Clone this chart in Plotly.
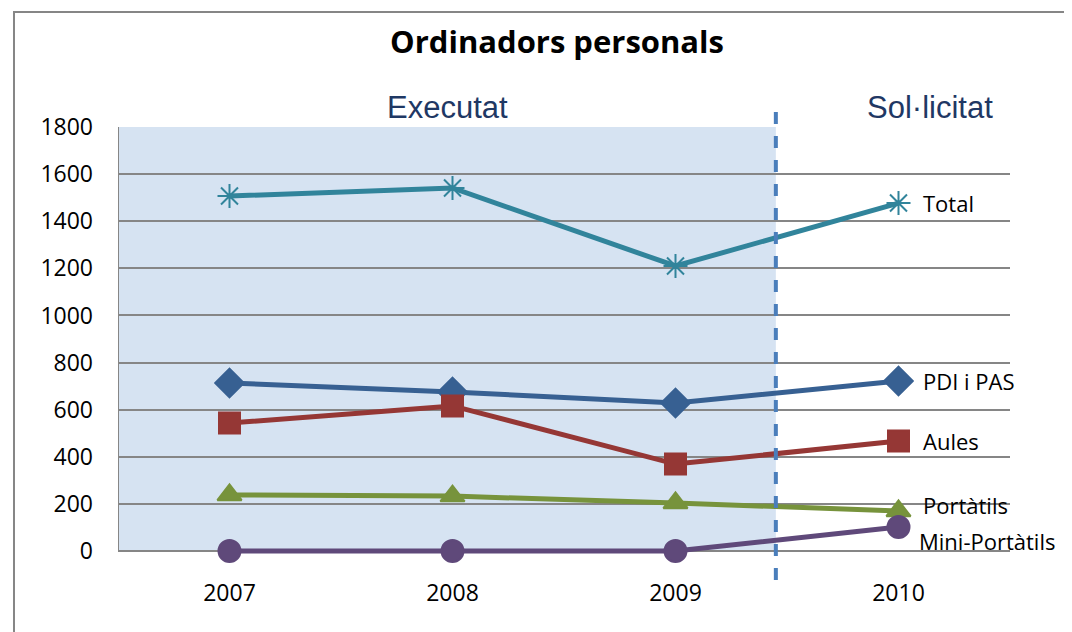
import plotly.graph_objects as go

years = ["2007", "2008", "2009", "2010"]
total = [1507, 1541, 1210, 1477]
pdi_pas = [713, 675, 628, 722]
aules = [543, 616, 369, 467]
portatils = [238, 233, 204, 170]
mini = [0, 0, 0, 102]
yticks = [0, 200, 400, 600, 800, 1000, 1200, 1400, 1600, 1800]

xs = list(range(len(years)))
FONT = "Open Sans, sans-serif"
ARIAL = "Liberation Sans, Arial, sans-serif"

series = [
    ("Total", total, "#31849b", "asterisk-open", 20, 0, 0),
    ("PDI i PAS", pdi_pas, "#376092", "diamond", 22, 0, 0),
    ("Aules", aules, "#953735", "square", 21, 0, 0),
    ("Portàtils", portatils, "#77933c", "triangle-up", 21, 0, 6),
    ("Mini-Portàtils", mini, "#5f497a", "circle", 22, -4, -14),
]

fig = go.Figure()
annotations = []
for name, vals, col, sym, sz, dx, dy in series:
    fig.add_trace(go.Scatter(
        x=xs, y=vals, mode="lines+markers", name=name, cliponaxis=False,
        line=dict(color=col, width=5),
        marker=dict(symbol=sym, size=sz, color=col,
                    line=dict(color=col, width=2)),
    ))
    annotations.append(dict(
        x=xs[-1], y=vals[-1], xref="x", yref="y", text=name,
        showarrow=False, xanchor="left", yanchor="middle",
        xshift=22 + dx, yshift=dy,
        font=dict(family=FONT, size=22, color="#000000"),
    ))

annotations += [
    dict(x=0.369, y=1.0438, xref="paper", yref="paper", text="Executat",
         showarrow=False, xanchor="center", yanchor="middle",
         font=dict(family=ARIAL, size=31, color="#1f3864")),
    dict(x=0.91, y=1.0438, xref="paper", yref="paper", text="Sol·licitat",
         showarrow=False, xanchor="center", yanchor="middle",
         font=dict(family=ARIAL, size=31, color="#1f3864")),
]

YMIN = -42.45
shapes = [
    dict(type="rect", xref="x", yref="y", x0=-0.5, x1=2.45, y0=0, y1=1800,
         fillcolor="#d6e3f2", line=dict(width=0), layer="below"),
    dict(type="line", xref="x", yref="y", x0=-0.5, x1=-0.5, y0=0, y1=1800,
         line=dict(color="#868686", width=2), layer="below"),
    dict(type="line", xref="x", yref="paper", x0=2.45, x1=2.45, y0=-0.0438, y1=1.0622,
         line=dict(color="#4a7ebb", width=4, dash="dash")),
    dict(type="rect", xref="paper", yref="paper", x0=-0.1166, x1=1.2, y0=-0.4, y1=1.265,
         line=dict(color="#868686", width=2), fillcolor="rgba(0,0,0,0)"),
]

fig.update_layout(
    width=1064, height=624,
    margin=dict(l=110, r=62, t=119, b=71),
    paper_bgcolor="white", plot_bgcolor="rgba(0,0,0,0)",
    showlegend=False,
    title=dict(text="<b>Ordinadors personals</b>", x=0.516, xanchor="center",
               y=1 - 34 / 624, yanchor="middle",
               font=dict(family=FONT, size=31, color="#000000")),
    xaxis=dict(range=[-0.5, 3.5], tickvals=xs, ticktext=years,
               showgrid=False, zeroline=False, showline=False,
               ticks="", ticklabelstandoff=16,
               tickfont=dict(family=FONT, size=23, color="#000000")),
    yaxis=dict(range=[YMIN, 1800], tickvals=yticks, showgrid=True,
               gridcolor="#868686", gridwidth=2, zeroline=False,
               showline=False,
               ticks="", ticklabelstandoff=24,
               tickfont=dict(family=FONT, size=23, color="#000000")),
    shapes=shapes, annotations=annotations,
)

fig.write_html("out.html")
